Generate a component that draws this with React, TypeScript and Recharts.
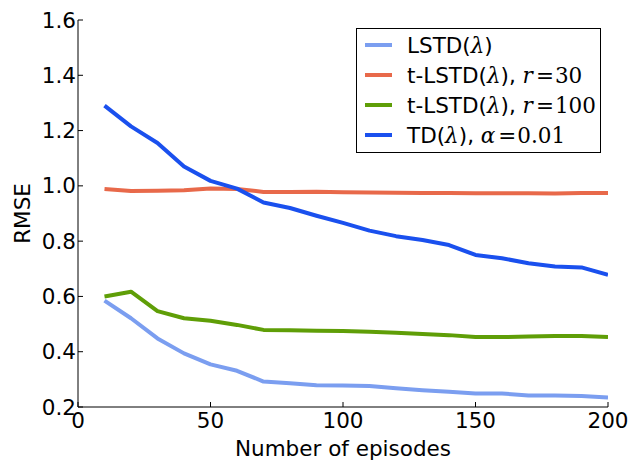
import React from "react";
import { LineChart, Line, XAxis, YAxis, Legend } from "recharts";

const episodes = [10, 20, 30, 40, 50, 60, 70, 80, 90, 100, 110, 120, 130, 140, 150, 160, 170, 180, 190, 200];
const lstd = [0.585, 0.521, 0.448, 0.394, 0.354, 0.331, 0.292, 0.286, 0.279, 0.278, 0.276, 0.268, 0.261, 0.255, 0.249, 0.249, 0.242, 0.242, 0.24, 0.234];
const tlstd30 = [0.989, 0.981, 0.982, 0.984, 0.99, 0.989, 0.978, 0.978, 0.979, 0.977, 0.976, 0.975, 0.974, 0.974, 0.973, 0.973, 0.973, 0.972, 0.974, 0.974];
const tlstd100 = [0.6, 0.617, 0.547, 0.521, 0.512, 0.497, 0.479, 0.478, 0.476, 0.475, 0.472, 0.469, 0.464, 0.46, 0.453, 0.453, 0.455, 0.457, 0.457, 0.453];
const td = [1.29, 1.215, 1.155, 1.07, 1.018, 0.99, 0.94, 0.92, 0.892, 0.866, 0.838, 0.818, 0.804, 0.786, 0.75, 0.738, 0.72, 0.708, 0.705, 0.678];

const xTicks = [0, 50, 100, 150, 200];
const yTicks = [0.2, 0.4, 0.6, 0.8, 1.0, 1.2, 1.4, 1.6];

const series = [
  { key: "lstd", color: "#7B9EF0", name: "LSTD", math: "", mathVal: "" },
  { key: "tlstd30", color: "#E8694A", name: "t-LSTD", math: "r", mathVal: "30" },
  { key: "tlstd100", color: "#5F9E07", name: "t-LSTD", math: "r", mathVal: "100" },
  { key: "td", color: "#1A50EE", name: "TD", math: "\u03b1", mathVal: "0.01" },
];

const data = episodes.map((ep, i) => ({
  ep,
  lstd: lstd[i],
  tlstd30: tlstd30[i],
  tlstd100: tlstd100[i],
  td: td[i],
}));

const FONT = "DejaVu Sans";
const MATH = "DejaVu Serif";
const tickStyle = { fill: "#000", fontSize: 21.5, fontFamily: FONT };

const LegendBox = () => (
  <svg width={246} height={126} style={{ display: "block" }}>
    <rect x={0.5} y={0.5} width={244} height={124} fill="#fff" stroke="#000" strokeWidth={1} />
    {series.map((s, i) => {
      const cy = 17 + i * 30;
      return (
        <g key={s.key}>
          <line x1={9} x2={36} y1={cy} y2={cy} stroke={s.color} strokeWidth={4} />
          <text x={51} y={cy + 8} fontFamily={FONT} fontSize={21.5} fill="#000">
            {s.name}(
            <tspan fontFamily={MATH} fontStyle="italic">{"\u03bb"}</tspan>
            ){s.math ? ", " : ""}
            {s.math ? (
              <>
                <tspan fontFamily={MATH} fontStyle="italic">{s.math}</tspan>
                <tspan fontFamily={MATH} dx={3}>=</tspan>
                <tspan fontFamily={MATH} dx={1}>{s.mathVal}</tspan>
              </>
            ) : null}
          </text>
        </g>
      );
    })}
  </svg>
);

const YLabel = ({ viewBox }: any) => {
  const cy = viewBox.y + viewBox.height / 2;
  return (
    <text
      x={22}
      y={cy}
      transform={`rotate(-90 22 ${cy})`}
      textAnchor="middle"
      dominantBaseline="central"
      fontFamily={FONT}
      fontSize={21.5}
      fill="#000"
    >
      RMSE
    </text>
  );
};

export default function App() {
  return (
    <div style={{ position: "absolute", left: 0, top: 0, background: "#fff" }}>
      <LineChart width={642} height={464} data={data} margin={{ top: 20, right: 34, left: 0, bottom: 0 }}>
        <XAxis
          dataKey="ep"
          type="number"
          domain={[0, 200]}
          ticks={xTicks}
          allowDataOverflow
          height={57}
          tick={tickStyle}
          tickSize={-5}
          tickMargin={11}
          axisLine={{ stroke: "#000" }}
          tickLine={{ stroke: "#000" }}
          label={{ value: "Number of episodes", position: "insideBottom", offset: 8, fill: "#000", fontSize: 21.5, fontFamily: FONT }}
        />
        <XAxis
          xAxisId="t"
          orientation="top"
          dataKey="ep"
          type="number"
          domain={[0, 200]}
          ticks={xTicks}
          allowDataOverflow
          height={0}
          tick={false}
          tickSize={-5}
          axisLine={{ stroke: "#000" }}
          tickLine={{ stroke: "#000" }}
        />
        <YAxis
          type="number"
          domain={[0.2, 1.6]}
          ticks={yTicks}
          allowDataOverflow
          width={78}
          tick={tickStyle}
          tickSize={-5}
          tickMargin={7}
          tickFormatter={(v: number) => v.toFixed(1)}
          axisLine={{ stroke: "#000" }}
          tickLine={{ stroke: "#000" }}
          label={<YLabel />}
        />
        <YAxis
          yAxisId="r"
          orientation="right"
          type="number"
          domain={[0.2, 1.6]}
          ticks={yTicks}
          allowDataOverflow
          width={0}
          tick={false}
          tickSize={-5}
          axisLine={{ stroke: "#000" }}
          tickLine={{ stroke: "#000" }}
        />
        <Legend
          layout="horizontal"
          align="center"
          verticalAlign="middle"
          wrapperStyle={{ left: 356, top: 28, width: 246, height: 126 }}
          content={() => <LegendBox />}
        />
        {series.map((s) => (
          <Line
            key={s.key}
            dataKey={s.key}
            type="linear"
            stroke={s.color}
            strokeWidth={4}
            strokeLinejoin="round"
            dot={false}
            activeDot={false}
            isAnimationActive={false}
          />
        ))}
      </LineChart>
    </div>
  );
}
